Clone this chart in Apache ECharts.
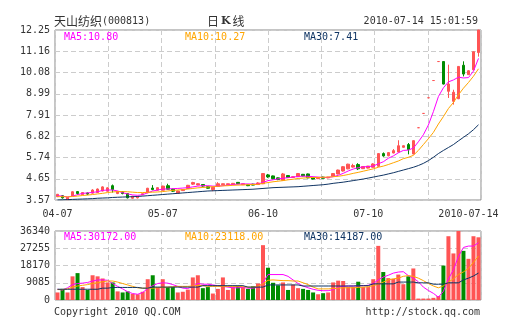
<!DOCTYPE html>
<html>
<head>
<meta charset="utf-8">
<script src="https://cdn.jsdelivr.net/npm/echarts@6/dist/echarts.min.js"></script>
<style>
  html, body { margin: 0; padding: 0; background: #fff; }
  #chart { width: 505px; height: 330px; }
</style>
</head>
<body>
<div id="chart"></div>
<script>
// ---- header text ----
const stockName = '天山纺织';
const stockCode = '000813';
const chartTitle = '日K线';
const stamp = '2010-07-14 15:01:59';
const copyright = 'Copyright 2010 QQ.COM';
const siteUrl = 'http://stock.qq.com';

// ---- axis tick labels ----
const dateLabels = ['04-07', '05-07', '06-10', '07-10', '2010-07-14'];
const dateLabelIdx = [0, 21, 41, 62, 82];
const priceTicks = ['3.57', '4.65', '5.74', '6.82', '7.91', '8.99', '10.08', '11.16', '12.25'];
const volTicks = ['0', '9085', '18170', '27255', '36340'];

// ---- daily bars: [open, close, low, high] ----
const candles = [
  [3.74,3.86,3.72,3.88],[3.79,3.68,3.64,3.82],[3.59,3.71,3.57,3.72],[3.78,3.99,3.77,4.01],[4.00,3.90,3.84,4.03],
  [3.84,3.95,3.82,3.96],[3.93,3.87,3.82,3.95],[3.92,4.08,3.90,4.12],[3.95,4.13,3.93,4.16],[4.03,4.24,4.01,4.27],
  [4.02,4.19,4.00,4.22],[4.30,4.10,3.95,4.36],[3.90,4.01,3.87,4.03],[3.99,3.90,3.86,4.01],[3.90,3.68,3.65,3.92],
  [3.66,3.76,3.63,3.78],[3.68,3.74,3.65,3.76],[3.84,3.89,3.82,3.90],[3.94,4.17,3.92,4.19],[4.18,4.10,4.07,4.33],
  [4.07,4.20,4.05,4.22],[4.07,4.28,4.05,4.30],[4.30,4.12,4.10,4.40],[4.12,4.02,3.98,4.15],[3.92,4.03,3.90,4.05],
  [4.05,4.10,4.03,4.12],[4.16,4.32,4.14,4.34],[4.38,4.46,4.34,4.50],[4.34,4.40,4.32,4.42],[4.36,4.28,4.25,4.38],
  [4.25,4.17,4.15,4.28],[4.10,4.22,4.02,4.24],[4.26,4.40,4.25,4.48],[4.35,4.40,4.33,4.41],[4.35,4.40,4.34,4.41],
  [4.36,4.42,4.35,4.44],[4.47,4.40,4.38,4.48],[4.35,4.40,4.34,4.41],[4.35,4.30,4.28,4.36],[4.38,4.33,4.32,4.40],
  [4.36,4.44,4.34,4.48],[4.40,4.92,4.38,4.94],[4.85,4.75,4.70,4.90],[4.80,4.66,4.62,4.82],[4.70,4.62,4.58,4.72],
  [4.58,4.90,4.56,4.95],[4.82,4.72,4.70,4.84],[4.72,4.76,4.70,4.78],[4.76,4.92,4.74,4.95],[4.88,4.80,4.78,4.90],
  [4.90,4.70,4.68,4.92],[4.72,4.64,4.62,4.74],[4.66,4.72,4.64,4.74],[4.74,4.68,4.66,4.76],[4.70,4.74,4.68,4.75],
  [4.78,4.92,4.76,4.94],[4.90,5.10,4.88,5.12],[5.05,5.27,5.02,5.30],[5.16,5.40,5.14,5.42],[5.25,5.33,5.22,5.42],
  [5.38,5.16,5.10,5.45],[5.17,5.28,5.15,5.30],[5.20,5.30,5.18,5.31],[5.24,5.41,5.22,5.45],[5.29,5.94,5.27,5.96],
  [5.94,5.82,5.78,6.00],[5.83,5.99,5.80,6.01],[5.97,6.09,5.95,6.17],[6.02,6.34,6.00,6.62],[6.26,6.34,6.24,6.36],
  [6.40,6.14,5.90,6.48],[5.92,6.60,5.90,6.62],[7.26,7.26,7.26,7.26],[7.99,7.99,7.99,7.99],[8.79,8.79,8.79,8.79],
  [9.67,9.67,9.67,9.67],[10.64,10.64,10.64,10.64],[10.64,9.49,9.47,10.64],[9.12,9.49,8.78,10.48],[8.61,9.07,8.44,9.20],
  [8.74,10.39,8.72,10.40],[10.45,10.00,9.88,10.65],[9.97,10.17,9.95,10.20],[10.22,11.14,10.20,11.15],[11.10,12.25,10.89,12.25]
];

// ---- price moving averages ----
const ma5 = [
  3.79,3.77,3.72,3.77,3.84,3.91,3.93,3.96,3.99,4.06, 4.08,4.08,4.03,3.94,3.88,3.83,3.81,3.84,3.94,4.03,
  4.08,4.13,4.13,4.15,4.16,4.18,4.20,4.24,4.28,4.30, 4.30,4.28,4.28,4.30,4.33,4.36,4.38,4.39,4.39,4.38,
  4.38,4.47,4.56,4.60,4.65,4.68,4.71,4.74,4.77,4.79, 4.78,4.76,4.74,4.72,4.72,4.76,4.83,4.93,5.05,5.15,
  5.22,5.26,5.28,5.30,5.42,5.52,5.70,5.82,5.98,6.10, 6.12,6.22,6.54,6.90,7.40,8.08,8.85,9.30,9.60,9.70,
  9.84,9.80,9.82,10.15,10.80
];
const ma10 = [
  3.74,3.74,3.73,3.75,3.77,3.80,3.82,3.85,3.88,3.91, 3.95,3.98,4.00,4.00,3.99,3.97,3.95,3.95,3.96,3.97,
  3.98,4.00,4.03,4.06,4.08,4.10,4.13,4.16,4.19,4.21, 4.23,4.25,4.27,4.29,4.30,4.32,4.33,4.34,4.35,4.36,
  4.37,4.42,4.46,4.50,4.53,4.56,4.60,4.63,4.67,4.69, 4.71,4.72,4.72,4.73,4.74,4.76,4.78,4.82,4.87,4.93,
  4.98,5.04,5.10,5.16,5.24,5.30,5.38,5.47,5.56,5.68, 5.75,5.85,6.10,6.40,6.70,7.02,7.45,7.83,8.24,8.55,
  8.94,9.28,9.57,9.89,10.27
];
const ma30 = [
  3.57,3.58,3.59,3.60,3.61,3.62,3.63,3.64,3.66,3.67, 3.68,3.70,3.71,3.72,3.73,3.74,3.75,3.77,3.79,3.81,
  3.83,3.85,3.87,3.89,3.91,3.93,3.95,3.97,3.99,4.01, 4.03,4.04,4.05,4.06,4.07,4.08,4.09,4.10,4.11,4.12,
  4.14,4.16,4.18,4.20,4.21,4.22,4.23,4.24,4.25,4.27, 4.29,4.31,4.33,4.35,4.38,4.42,4.45,4.48,4.52,4.56,
  4.60,4.64,4.69,4.74,4.79,4.84,4.90,4.96,5.03,5.10, 5.17,5.24,5.33,5.44,5.58,5.75,5.94,6.10,6.25,6.40,
  6.59,6.77,6.95,7.16,7.41
];

// ---- volume (lots) ----
const volume = [
  3970,5850,3970,12460,14160,6800,5290,13030,12460,11330, 9250,9250,4530,3970,4530,3210,3020,4340,10950,13030,
  6800,10950,6800,6800,3970,4340,5480,11890,13030,6230, 6800,3400,5850,11890,5290,6800,7360,6800,5850,7170,
  8680,28880,16990,9060,7740,9250,5290,8120,6230,5850, 5290,3970,3020,3590,3970,9250,10190,10010,6800,6800,
  9630,6800,6800,10950,28510,14730,11520,11140,13400,8310, 12460,16610,760,760,760,1130,2080,18120,33590,24520,
  36340,25880,21690,33590,33020
];

// ---- volume moving averages ----
const vma5 = [
  5660,5280,6420,8120,8680,8880,9240,10000,10570,10570, 10380,8680,7170,5850,4340,3400,3020,3960,6040,7550,
  8680,9060,8880,8120,7170,6230,6040,7170,8680,8310, 8310,7930,7550,7170,6790,6420,6420,6610,6230,6230,
  6790,9060,13400,13400,13400,13400,12460,10570,8680,7370, 6420,5660,5100,4900,4900,5480,6790,7170,7370,7370,
  7370,7550,7740,8680,10570,12090,13020,14160,14720,14910, 12840,11510,9630,6790,5000,3500,1500,4570,11140,15890,
  22930,27690,28400,28400,30172
];
const vma10 = [
  5480,5480,5850,6790,7370,7740,8120,8680,9060,9630, 10000,10000,9440,8680,7930,7170,6420,6230,6230,6230,
  6420,6610,6790,6990,7170,7170,7170,7370,7740,7550, 7170,7170,7170,7170,7170,7170,7170,6990,6790,6790,
  7170,8680,10380,10570,10380,10200,10200,10000,10000,9060, 8120,6790,5850,5850,5850,6040,6230,6420,6420,6420,
  6610,6790,6990,7550,8310,9440,10570,11140,11510,12460, 12840,12460,11510,10200,8680,7370,6420,7440,9460,11080,
  13470,14800,16600,19800,23118
];
const vma30 = [
  5660,5660,5660,5660,5660,5660,5660,5660,5660,6230, 6230,6610,6610,6610,6610,6610,6610,6230,6230,6790,
  6790,6790,6790,6790,6790,6790,6790,6790,6790,7550, 7550,7550,7550,7550,7550,7550,7550,7550,6790,6790,
  6790,6790,7930,7930,7930,7930,7930,7930,7930,7370, 7370,7370,7370,7370,7370,7370,7370,7370,7370,7370,
  7550,7550,7550,8500,8500,8500,8500,8500,9440,9440, 9440,9440,9060,9060,9060,8310,8310,8310,9060,9060,
  9060,10570,11510,12650,14187
];

// ---- colours ----
const UP = '#ff5454';
const DOWN = '#008c00';
const C5 = '#ff00ff';
const C10 = '#ffa500';
const C30 = '#0f3463';
const TXT = '#333333';
const GRIDLINE = '#cccccc';
const MONO = '"DejaVu Sans Mono", monospace';
const CJK = '"Noto Sans CJK SC", sans-serif';

const days = candles.map((_, i) => i);
const last = arr => arr[arr.length - 1];

const volumeData = volume.map((v, i) => ({
  value: v,
  itemStyle: { color: candles[i][1] >= candles[i][0] ? UP : DOWN }
}));

const dashed = { show: true, lineStyle: { color: GRIDLINE, width: 1, type: [5, 3] } };
const hidden = { axisLine: { show: false }, axisTick: { show: false } };

function maLine(name, data, color, xi, yi) {
  return {
    name, type: 'line', data, xAxisIndex: xi, yAxisIndex: yi,
    showSymbol: false, symbol: 'none', smooth: false,
    lineStyle: { color, width: 1 }, itemStyle: { color },
    z: 5, silent: true
  };
}

function txt(text, x, y, fill, align, font) {
  return {
    type: 'text', silent: true, z: 100,
    style: { text, x, y, fill, align: align || 'left', verticalAlign: 'middle', font: font || ('10px ' + MONO) }
  };
}

const chart = echarts.init(document.getElementById('chart'), null, { renderer: 'canvas' });

chart.setOption({
  animation: false,
  backgroundColor: '#ffffff',
  grid: [
    { left: 55, top: 30, width: 426, height: 170, show: true, borderColor: '#8a8a8a', borderWidth: 1, backgroundColor: '#fff' },
    { left: 55, top: 231, width: 426, height: 69, show: true, borderColor: '#8a8a8a', borderWidth: 1, backgroundColor: '#fff' }
  ],
  xAxis: [
    {
      type: 'category', gridIndex: 0, data: days, boundaryGap: true, ...hidden,
      splitLine: { show: false },
      axisLabel: {
        interval: i => dateLabelIdx.includes(i),
        formatter: (v, i) => { const k = dateLabelIdx.indexOf(i); return k >= 0 ? dateLabels[k] : ''; },
        fontFamily: MONO, fontSize: 10, color: TXT, margin: 9
      }
    },
    { type: 'value', gridIndex: 0, min: 0, max: 8, interval: 1, ...hidden, axisLabel: { show: false }, splitLine: dashed },
    { type: 'category', gridIndex: 1, data: days, boundaryGap: true, ...hidden, axisLabel: { show: false }, splitLine: { show: false } },
    { type: 'value', gridIndex: 1, min: 0, max: 8, interval: 1, ...hidden, axisLabel: { show: false }, splitLine: dashed }
  ],
  yAxis: [
    {
      type: 'value', gridIndex: 0, min: 3.57, max: 12.25, interval: 1.085, ...hidden,
      splitLine: dashed,
      axisLabel: { formatter: (v, i) => priceTicks[i], fontFamily: MONO, fontSize: 10, color: TXT, margin: 5 }
    },
    {
      type: 'value', gridIndex: 1, min: 0, max: 36340, interval: 9085, ...hidden,
      splitLine: dashed,
      axisLabel: { formatter: (v, i) => volTicks[i], fontFamily: MONO, fontSize: 10, color: TXT, margin: 5 }
    }
  ],
  series: [
    {
      name: 'K', type: 'candlestick', xAxisIndex: 0, yAxisIndex: 0, data: candles,
      barWidth: 3, z: 3,
      itemStyle: { color: UP, color0: DOWN, borderColor: UP, borderColor0: DOWN, borderColorDoji: UP, borderWidth: 1 }
    },
    maLine('MA5', ma5, C5, 0, 0),
    maLine('MA10', ma10, C10, 0, 0),
    maLine('MA30', ma30, C30, 0, 0),
    { name: 'VOL', type: 'bar', xAxisIndex: 2, yAxisIndex: 1, data: volumeData, barWidth: 4, z: 3 },
    maLine('VMA5', vma5, C5, 2, 1),
    maLine('VMA10', vma10, C10, 2, 1),
    maLine('VMA30', vma30, C30, 2, 1)
  ],
  graphic: [
    {
      type: 'text', silent: true,
      style: {
        text: '{cn|' + stockName + '}{en|(' + stockCode + ')}',
        x: 54, y: 21, verticalAlign: 'middle',
        rich: {
          cn: { fontFamily: CJK, fontSize: 12, fill: TXT, color: TXT },
          en: { fontFamily: MONO, fontSize: 10, fill: TXT, color: TXT }
        }
      }
    },
    {
      type: 'text', silent: true,
      style: {
        text: '{a|' + chartTitle[0] + '}{k|' + chartTitle[1] + '}{a|' + chartTitle[2] + '}',
        x: 207, y: 21, verticalAlign: 'middle',
        rich: {
          a: { fontFamily: CJK, fontSize: 12, fill: TXT, color: TXT },
          k: { fontFamily: '"DejaVu Serif", serif', fontWeight: 'bold', fontSize: 11, fill: TXT, color: TXT, padding: [0, 2, 0, 2] }
        }
      }
    },
    txt(stamp, 478, 21, TXT, 'right'),
    txt('MA5:' + last(ma5).toFixed(2), 64, 37, C5),
    txt('MA10:' + last(ma10).toFixed(2), 185, 37, C10),
    txt('MA30:' + last(ma30).toFixed(2), 304, 37, C30),
    txt('MA5:' + last(vma5).toFixed(2), 64, 237, C5),
    txt('MA10:' + last(vma10).toFixed(2), 185, 237, C10),
    txt('MA30:' + last(vma30).toFixed(2), 304, 237, C30),
    txt(copyright, 54, 312, TXT),
    txt(siteUrl, 480, 312, TXT, 'right')
  ]
});
</script>
</body>
</html>
